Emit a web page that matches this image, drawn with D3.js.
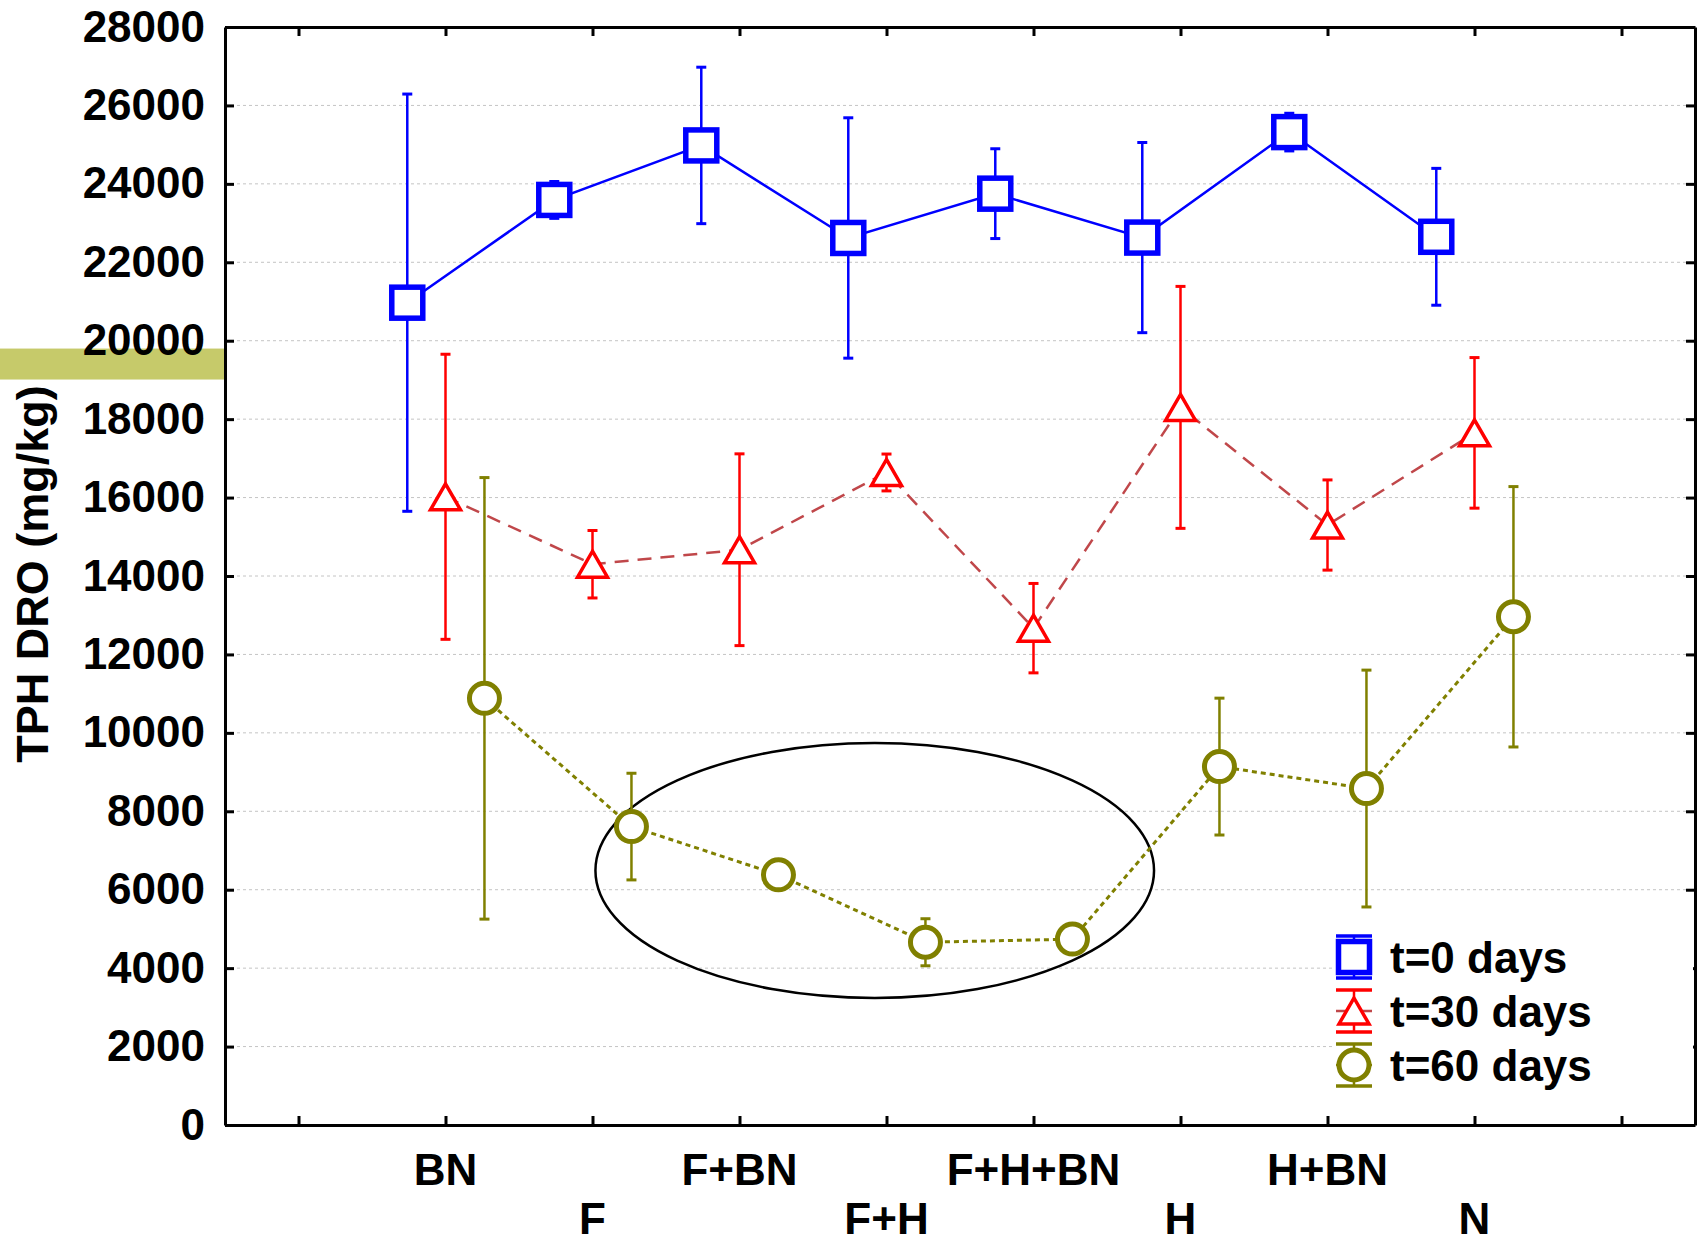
<!DOCTYPE html>
<html>
  <head>
    <style>
      body { margin: 0; background: #fff; }
      text { font-family: "Liberation Sans", Arial, sans-serif; font-weight: bold; fill: #000; }
    </style>
  </head>

  <body>

    <svg class="surface" width="1708" height="1245"></svg>

    <script src="https://cdnjs.cloudflare.com/ajax/libs/d3/7.8.5/d3.min.js" charset="utf-8"></script>
    <script>

      const categories = ['BN', 'F', 'F+BN', 'F+H', 'F+H+BN', 'H', 'H+BN', 'N']
      const yTicks = [0, 2000, 4000, 6000, 8000, 10000, 12000, 14000, 16000, 18000, 20000, 22000, 24000, 26000, 28000]

      // t=0 days
      const mean0 = [20970, 23590, 24980, 22620, 23750, 22630, 25320, 22650]
      const err0 = [5320, 470, 1995, 3065, 1145, 2425, 480, 1745]
      // t=30 days
      const mean30 = [16020, 14300, 14670, 16640, 12670, 18300, 15300, 17650]
      const err30 = [3635, 860, 2445, 470, 1140, 3085, 1150, 1920]
      // t=60 days
      const mean60 = [10880, 7610, 6380, 4660, 4740, 9140, 8580, 12960]
      const err60 = [5630, 1360, 120, 600, 110, 1745, 3020, 3320]

      const seriesNames = ['t=0 days', 't=30 days', 't=60 days']

      const svg = d3.select('.surface')
      const plotL = 225, plotR = 1695, plotT = 27, plotB = 1125

      const y = d3.scaleLinear().domain([0, 28000]).range([plotB, plotT])
      const slots = d3.scalePoint().domain(d3.range(categories.length + 2)).range([plotL, plotR]).padding(0.5)
      const step = slots.step()
      const x = c => slots(categories.indexOf(c) + 1)

      // highlight strip left of the axis
      svg.append('rect')
        .attr('x', 0).attr('width', plotL)
        .attr('y', y(19800)).attr('height', y(19010) - y(19800))
        .attr('fill', '#c6ca6a')

      // grid
      svg.append('g').selectAll('line')
        .data(yTicks.filter(d => d > 0 && d < 28000))
        .enter().append('line')
          .attr('x1', plotL).attr('x2', plotR)
          .attr('y1', d => y(d)).attr('y2', d => y(d))
          .attr('stroke', '#c4c4c4').attr('stroke-width', 1).attr('stroke-dasharray', '3,3')

      // axes
      const axisStyle = g => {
        g.select('.domain').attr('stroke', '#000').attr('stroke-width', 3)
        g.selectAll('.tick line').attr('stroke', '#000').attr('stroke-width', 3)
      }
      svg.append('g').attr('transform', `translate(${plotL},0)`)
        .call(d3.axisLeft(y).tickValues(yTicks).tickFormat(d3.format('d')).tickSize(-9).tickSizeOuter(0).tickPadding(20))
        .call(axisStyle)
        .call(g => g.selectAll('.tick text').style('font-size', '44px').attr('fill', '#000'))
      svg.append('g').attr('transform', `translate(${plotR},0)`)
        .call(d3.axisRight(y).tickValues(yTicks).tickSize(-9).tickSizeOuter(0).tickFormat(''))
        .call(axisStyle)
      svg.append('g').attr('transform', `translate(0,${plotB})`)
        .call(d3.axisBottom(slots).tickSize(-9).tickSizeOuter(0).tickFormat(''))
        .call(axisStyle)
      svg.append('g').attr('transform', `translate(0,${plotT})`)
        .call(d3.axisTop(slots).tickSize(-9).tickSizeOuter(0).tickFormat(''))
        .call(axisStyle)

      // category labels, two staggered rows
      svg.append('g').selectAll('text')
        .data(categories)
        .enter().append('text')
          .attr('x', d => x(d))
          .attr('y', (d, i) => i % 2 === 0 ? 1185 : 1234)
          .attr('text-anchor', 'middle')
          .style('font-size', '44px')
          .text(d => d)

      svg.append('text')
        .attr('transform', 'translate(48,574) rotate(-90)')
        .attr('text-anchor', 'middle')
        .style('font-size', '45px')
        .text('TPH DRO (mg/kg)')

      const series = [
        { mean: mean0, err: err0, off: -0.26, color: '#0000ff', line: '#0000ff', dash: null, lw: 2.5, shape: 'square' },
        { mean: mean30, err: err30, off: 0, color: '#ff0000', line: '#c0474a', dash: '14,9', lw: 2.5, shape: 'triangle' },
        { mean: mean60, err: err60, off: 0.265, color: '#808000', line: '#808000', dash: '5,4', lw: 3, shape: 'circle' }
      ]

      const drawMarker = (g, shape, color) => {
        if (shape === 'square') {
          g.append('rect').attr('x', -15.5).attr('y', -15.5).attr('width', 31).attr('height', 31)
            .attr('fill', '#fff').attr('stroke', color).attr('stroke-width', 5.5)
        } else if (shape === 'triangle') {
          g.append('path').attr('d', 'M0,-13L15,13L-15,13Z')
            .attr('fill', '#fff').attr('stroke', color).attr('stroke-width', 3.5)
        } else {
          g.append('circle').attr('r', 15)
            .attr('fill', '#fff').attr('stroke', color).attr('stroke-width', 5)
        }
      }

      // ellipse around the low t=60 group
      svg.append('ellipse')
        .attr('cx', x('F+H') - 0.08 * step)
        .attr('cy', y(6490))
        .attr('rx', 1.9 * step)
        .attr('ry', y(3240) - y(6490))
        .attr('fill', 'none').attr('stroke', '#000').attr('stroke-width', 2.5)

      series.forEach(s => {
        const pts = categories.map((c, i) => ({ x: x(c) + s.off * step, m: s.mean[i], e: s.err[i] }))
        const g = svg.append('g')

        g.append('path')
          .attr('d', d3.line().x(d => d.x).y(d => y(d.m))(pts))
          .attr('fill', 'none').attr('stroke', s.line).attr('stroke-width', s.lw)
          .attr('stroke-dasharray', s.dash)

        const eb = g.append('g').selectAll('g').data(pts).enter().append('g')
        eb.append('line')
          .attr('x1', d => d.x).attr('x2', d => d.x)
          .attr('y1', d => y(d.m + d.e)).attr('y2', d => y(d.m - d.e))
          .attr('stroke', s.color).attr('stroke-width', 2.5)
        ;[1, -1].forEach(sign => {
          eb.append('line')
            .attr('x1', d => d.x - 5).attr('x2', d => d.x + 5)
            .attr('y1', d => y(d.m + sign * d.e)).attr('y2', d => y(d.m + sign * d.e))
            .attr('stroke', s.color).attr('stroke-width', 3)
        })

        g.selectAll('.mk').data(pts).enter().append('g')
          .attr('class', 'mk')
          .attr('transform', d => `translate(${d.x},${y(d.m)})`)
          .each(function () { drawMarker(d3.select(this), s.shape, s.color) })
      })

      // legend
      const legend = svg.append('g')
      legend.append('rect')
        .attr('x', 1333).attr('y', 932).attr('width', plotR - 1333 - 2).attr('height', 160)
        .attr('fill', '#fff')
      series.forEach((s, i) => {
        const row = legend.append('g').attr('transform', `translate(1354,${957 + i * 54})`)
        row.append('line').attr('x1', -18).attr('x2', 18).attr('stroke', s.line).attr('stroke-width', 2.5)
        row.append('line').attr('y1', -21).attr('y2', 21).attr('stroke', s.color).attr('stroke-width', 2.5)
        ;[-21, 21].forEach(cy => row.append('line')
          .attr('x1', -18).attr('x2', 18).attr('y1', cy).attr('y2', cy)
          .attr('stroke', s.color).attr('stroke-width', 3.5))
        drawMarker(row, s.shape, s.color)
        row.append('text')
          .attr('x', 36).attr('y', 0).attr('dy', '0.36em')
          .style('font-size', '44px')
          .text(seriesNames[i])
      })

    </script>
  </body>

</html>
